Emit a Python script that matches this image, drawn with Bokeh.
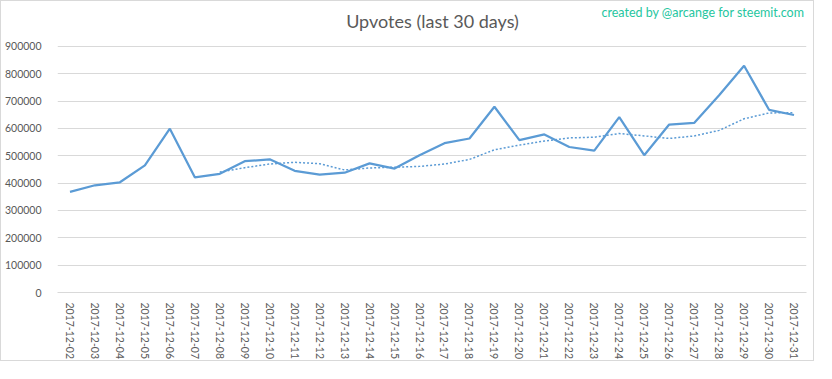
import numpy as np
from bokeh.plotting import figure
from bokeh.models import Range1d, Label, FixedTicker, NumeralTickFormatter
from bokeh.embed import file_html
from bokeh.resources import INLINE

dates = ["2017-12-02", "2017-12-03", "2017-12-04", "2017-12-05", "2017-12-06",
         "2017-12-07", "2017-12-08", "2017-12-09", "2017-12-10", "2017-12-11",
         "2017-12-12", "2017-12-13", "2017-12-14", "2017-12-15", "2017-12-16",
         "2017-12-17", "2017-12-18", "2017-12-19", "2017-12-20", "2017-12-21",
         "2017-12-22", "2017-12-23", "2017-12-24", "2017-12-25", "2017-12-26",
         "2017-12-27", "2017-12-28", "2017-12-29", "2017-12-30", "2017-12-31"]
upvotes = [368000, 392000, 403000, 465000, 599000, 421000, 434000, 480000, 487000, 445000,
           431000, 438000, 472000, 453000, 502000, 546000, 563000, 679000, 557000, 578000,
           532000, 519000, 641000, 502000, 614000, 620000, 721000, 829000, 668000, 649000]
y_ticks = [0, 100000, 200000, 300000, 400000, 500000, 600000, 700000, 800000, 900000]
title_text = "Upvotes (last 30 days)"
credit_text = "created by @arcange for steemit.com"

# 7-period moving average trendline (as in the original chart)
period = 7
trend = np.convolve(np.array(upvotes, dtype=float), np.ones(period) / period, mode="valid")
trend_dates = dates[period - 1:]

FONT = "Lato"
GRAY = "#595959"
GRID = "#D9D9D9"
BLUE = "#5B9BD5"

# layout (pixels): the frame reaches the top of the canvas so the heading texts
# can live inside it; the value axis is stretched so 900000 sits below the heading.
W, H = 814, 361
LEFT, RIGHT, BOTTOM = 55, 9, 69
TOP_GAP = 45                      # pixels from canvas top to the 900000 gridline
frame_h = H - BOTTOM
y_top = max(y_ticks) * frame_h / (frame_h - TOP_GAP)

p = figure(width=W, height=H, x_range=dates, y_range=Range1d(0, y_top),
           output_backend="svg", toolbar_location=None,
           min_border_left=LEFT, min_border_right=RIGHT, min_border_top=0,
           min_border_bottom=62)
p.styles = {"border": "1px solid #D9D9D9"}
p.outline_line_color = None
p.background_fill_color = "white"
p.border_fill_color = "white"

p.line(dates, upvotes, line_color=BLUE, line_width=2.25)
p.line(trend_dates, trend, line_color=BLUE, line_width=1.5, line_dash="2 2")

p.yaxis.ticker = FixedTicker(ticks=y_ticks)
p.yaxis.formatter = NumeralTickFormatter(format="0")
p.yaxis.axis_line_color = None
p.yaxis.major_tick_line_color = None
p.yaxis.minor_tick_line_color = None
p.yaxis.major_label_standoff = 10
p.yaxis.major_label_text_font = FONT
p.yaxis.major_label_text_font_size = "10.5px"
p.yaxis.major_label_text_color = GRAY

p.xaxis.axis_line_color = GRID
p.xaxis.major_tick_line_color = None
p.xaxis.minor_tick_line_color = None
p.xaxis.major_label_orientation = "vertical"
p.xaxis.major_label_standoff = 4
p.xaxis.major_label_text_font = FONT
p.xaxis.major_label_text_font_size = "10.5px"
p.xaxis.major_label_text_color = GRAY

p.xgrid.grid_line_color = None
p.ygrid.grid_line_color = GRID
p.ygrid.grid_line_width = 1

frame_w = W - LEFT - RIGHT
title = Label(x=frame_w / 2, y=frame_h - 20, x_units="screen", y_units="screen",
              text=title_text, text_font=FONT, text_font_size="18px",
              text_color=GRAY, text_align="center", text_baseline="middle")
p.add_layout(title)

credit = Label(x=frame_w - 3, y=frame_h - 12, x_units="screen", y_units="screen",
               text=credit_text, text_font=FONT, text_font_size="12.5px",
               text_color="#26C6A0", text_align="right", text_baseline="middle")
p.add_layout(credit)

open("out.html", "w").write(file_html(p, INLINE))
